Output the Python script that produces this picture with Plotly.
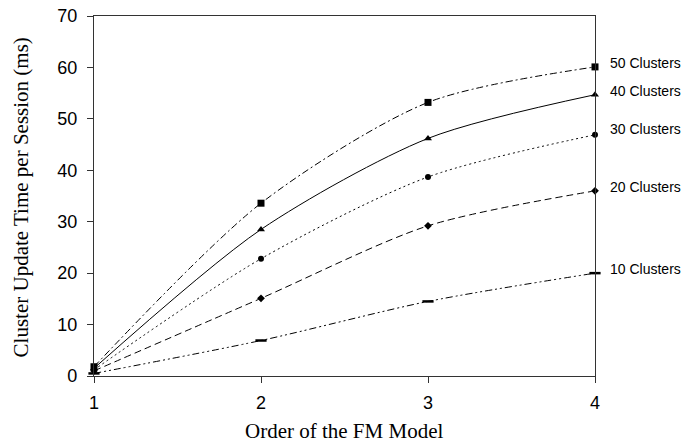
import plotly.graph_objects as go

orders = [1, 2, 3, 4]
c50 = [1.8, 33.6, 53.2, 60.1]
c40 = [1.5, 28.5, 46.2, 54.7]
c30 = [1.2, 22.8, 38.7, 46.9]
c20 = [1.0, 15.1, 29.2, 36.0]
c10 = [0.5, 6.9, 14.5, 20.0]
series_names = ["50 Clusters", "40 Clusters", "30 Clusters", "20 Clusters", "10 Clusters"]
label_y = [60.8, 55.5, 48.0, 36.8, 20.9]
y_ticks = [0, 10, 20, 30, 40, 50, 60, 70]

series = [c50, c40, c30, c20, c10]
dashes = ["7px,3px,2px,3px", "solid", "2px,3px", "7px,4px", "7px,3px,2px,3px,2px,3px"]
symbols = ["square", "triangle-up", "circle", "diamond", "line-ew"]
sizes = [7, 7, 6, 6, 8]

fig = go.Figure()
for name, vals, d, sym, sz in zip(series_names, series, dashes, symbols, sizes):
    marker = dict(symbol=sym, size=sz, color="black")
    if sym == "line-ew":
        marker["line"] = dict(width=2.5, color="black")
    fig.add_trace(go.Scatter(
        x=orders, y=vals, mode="lines+markers", name=name,
        line=dict(color="black", width=1, dash=d, shape="spline", smoothing=0.8),
        marker=marker, cliponaxis=False, showlegend=False,
    ))

for name, ly in zip(series_names, label_y):
    fig.add_annotation(x=4, y=ly, xref="x", yref="y", text=name, showarrow=False,
                       xanchor="left", xshift=13,
                       font=dict(family="Liberation Sans, Arial", size=14, color="black"))

# axis titles (plot area spans 501 x 360 px)
fig.add_annotation(x=(21 - 94) / 501, y=0.496, xref="paper", yref="paper", text="Cluster Update Time per Session (ms)",
                   showarrow=False, textangle=-90, xanchor="center", yanchor="middle",
                   font=dict(family="Liberation Serif, Times New Roman", size=21, color="black"))
fig.add_annotation(x=(344 - 94) / 501, y=(376 - 431) / 360, xref="paper", yref="paper", text="Order of the FM Model",
                   showarrow=False, xanchor="center", yanchor="middle",
                   font=dict(family="Liberation Serif, Times New Roman", size=21, color="black"))

fig.update_layout(
    width=689, height=442,
    margin=dict(l=94, r=94, t=16, b=66),
    plot_bgcolor="white", paper_bgcolor="white",
    font=dict(family="Liberation Sans, Arial", size=18, color="black"),
)
fig.update_xaxes(
    range=[1, 4], tickvals=orders, ticktext=["1", "2", "3", "4"],
    showgrid=False, zeroline=False, showline=True, linecolor="#333", linewidth=1.2,
    mirror=True, ticks="outside", ticklen=6, tickcolor="#333", automargin=False,
    ticklabelstandoff=4, ticklabeloverflow="allow",
)
fig.update_yaxes(
    range=[0, 70], tickvals=y_ticks,
    showgrid=False, zeroline=False, showline=True, linecolor="#333", linewidth=1.2,
    mirror=True, ticks="outside", ticklen=6, tickcolor="#333", automargin=False,
    ticklabelstandoff=6, ticklabeloverflow="allow",
)

fig.write_html("out.html", config={"displayModeBar": False},
               post_script="document.body.style.margin='0';document.body.style.overflow='hidden';")
